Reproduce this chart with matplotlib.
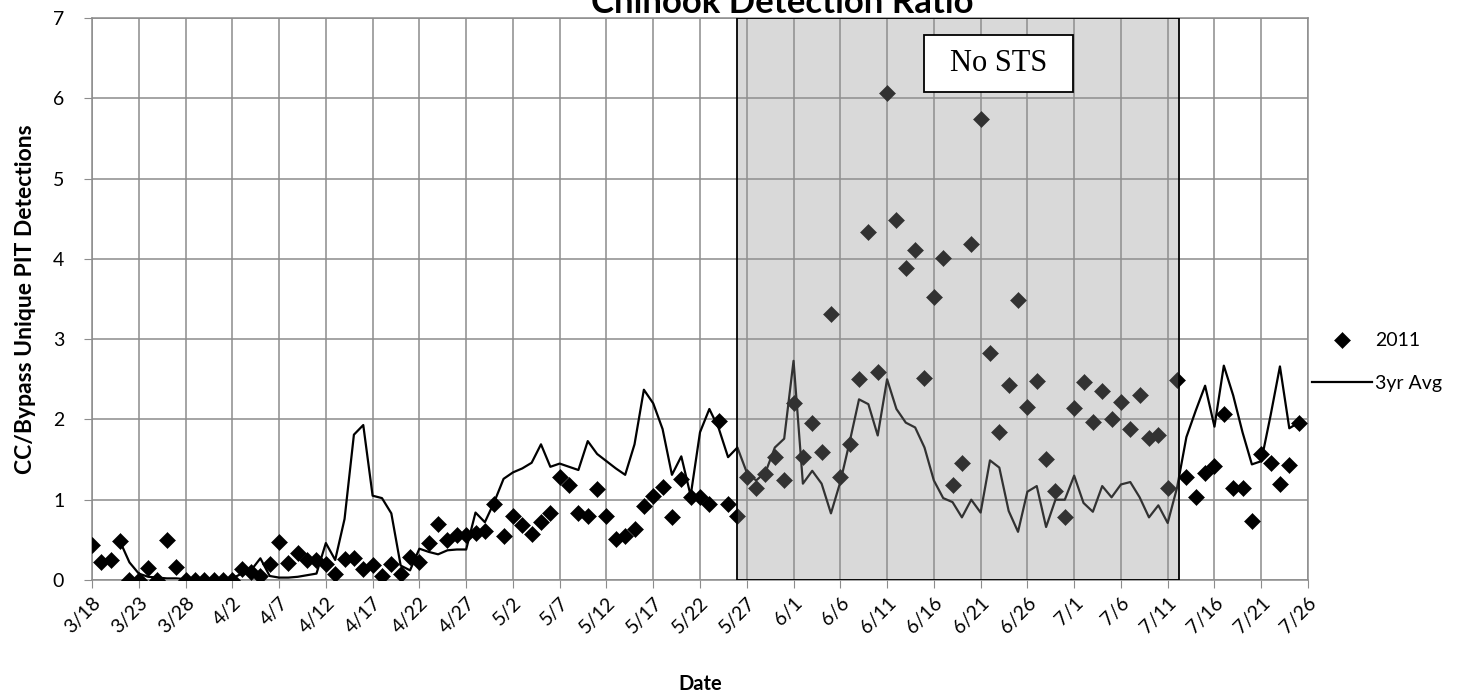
import numpy as np
import pandas as pd
import matplotlib
matplotlib.use('Agg')
import matplotlib.pyplot as plt
from matplotlib.patches import Rectangle

plt.rcParams['font.family'] = ['Lato', 'DejaVu Sans']

# daily values, 3/18/2011 .. 7/25/2011
dates = pd.date_range('2011-03-18', periods=130, freq='D')
tick_dates = pd.date_range('2011-03-18', '2011-07-26', freq='5D')
tick_labels = [f'{d.month}/{d.day}' for d in tick_dates]

ratio_2011 = [
    0.43, 0.23, 0.25, 0.48, 0.0, 0.0, 0.15, 0.0, 0.50, 0.16,
    0.0, 0.0, 0.0, 0.0, 0.0, 0.0, 0.14, 0.10, 0.05, 0.20,
    0.47, 0.21, 0.34, 0.25, 0.25, 0.20, 0.08, 0.26, 0.27, 0.14,
    0.19, 0.05, 0.20, 0.08, 0.29, 0.22, 0.46, 0.70, 0.50, 0.56,
    0.56, 0.58, 0.61, 0.95, 0.55, 0.80, 0.68, 0.57, 0.72, 0.84,
    1.28, 1.18, 0.84, 0.80, 1.13, 0.80, 0.51, 0.55, 0.64, 0.92,
    1.05, 1.16, 0.79, 1.26, 1.04, 1.03, 0.95, 1.98, 0.95, 0.80,
    1.28, 1.15, 1.32, 1.53, 1.24, 2.21, 1.53, 1.96, 1.59, 3.31,
    1.28, 1.70, 2.50, 4.33, 2.59, 6.07, 4.49, 3.88, 4.11, 2.51,
    3.52, 4.01, 1.18, 1.46, 4.19, 5.74, 2.83, 1.84, 2.43, 3.49,
    2.16, 2.48, 1.51, 1.11, 0.78, 2.14, 2.47, 1.97, 2.36, 2.00,
    2.22, 1.88, 2.31, 1.77, 1.81, 1.14, 2.49, 1.28, 1.04, 1.33,
    1.42, 2.07, 1.15, 1.14, 0.74, 1.57, 1.46, 1.19, 1.43, 1.96,
]

avg_3yr = [
    np.nan, np.nan, np.nan, 0.48, 0.22, 0.08, 0.04, 0.03, 0.02, 0.02,
    0.01, 0.01, 0.0, 0.0, 0.0, 0.02, 0.08, 0.12, 0.27, 0.05,
    0.03, 0.03, 0.04, 0.06, 0.08, 0.46, 0.25, 0.76, 1.81, 1.93,
    1.05, 1.02, 0.83, 0.18, 0.12, 0.39, 0.35, 0.32, 0.37, 0.38,
    0.38, 0.84, 0.72, 0.97, 1.26, 1.34, 1.39, 1.46, 1.69, 1.41,
    1.45, 1.41, 1.37, 1.73, 1.57, 1.48, 1.39, 1.31, 1.69, 2.37,
    2.20, 1.88, 1.31, 1.54, 1.05, 1.84, 2.13, 1.89, 1.53, 1.65,
    1.34, 1.24, 1.34, 1.65, 1.76, 2.73, 1.20, 1.36, 1.20, 0.83,
    1.22, 1.72, 2.25, 2.19, 1.80, 2.50, 2.13, 1.96, 1.90, 1.65,
    1.24, 1.02, 0.97, 0.78, 1.00, 0.84, 1.49, 1.40, 0.86, 0.60,
    1.10, 1.17, 0.66, 1.00, 1.00, 1.30, 0.96, 0.85, 1.17, 1.03,
    1.19, 1.22, 1.03, 0.78, 0.93, 0.71, 1.15, 1.78, 2.11, 2.42,
    1.91, 2.67, 2.30, 1.84, 1.44, 1.48, 2.05, 2.66, 1.89, 1.96,
]

# period with no STS
no_sts_start = pd.Timestamp('2011-05-26')
no_sts_end = pd.Timestamp('2011-07-12 06:00')

fig = plt.figure(figsize=(14.68, 6.96), dpi=100)
ax = fig.add_axes([92 / 1468, 116 / 696, 1216 / 1468, 562 / 696])

grid_c = '#8c8c8c'
ax.plot(dates, avg_3yr, color='black', lw=1.6, zorder=2.5, label='3yr Avg')
ax.plot(dates, ratio_2011, linestyle='none', marker='D', ms=8.4,
        color='black', mew=0.4, zorder=3, label='2011')

# shaded no-STS window (drawn over the data like the original)
x0 = matplotlib.dates.date2num(no_sts_start)
x1 = matplotlib.dates.date2num(no_sts_end)
ax.add_patch(Rectangle((x0, 0), x1 - x0, 7, facecolor='#929292', alpha=0.35,
                       edgecolor='none', zorder=4))
ax.add_patch(Rectangle((x0, 0), x1 - x0, 7, facecolor='none',
                       edgecolor='black', lw=1.3, zorder=5))

bx0 = matplotlib.dates.date2num(pd.Timestamp('2011-06-14 23:00'))
bx1 = matplotlib.dates.date2num(pd.Timestamp('2011-06-30 21:00'))
ax.add_patch(Rectangle((bx0, 6.08), bx1 - bx0, 0.71, facecolor='white',
                       edgecolor='black', lw=1.3, zorder=6))
ax.text((bx0 + bx1) / 2, 6.43, 'No STS', family=['Liberation Serif'],
        fontsize=22, ha='center', va='center', zorder=7)

ax.set_xlim(dates[0], pd.Timestamp('2011-07-26'))
ax.set_ylim(0, 7)
ax.set_xticks(tick_dates)
ax.set_xticklabels(tick_labels, rotation=45, ha='right', rotation_mode='anchor')
ax.set_yticks(range(0, 8))
ax.tick_params(axis='x', length=6, color=grid_c, labelsize=14, pad=4)
ax.tick_params(axis='y', length=6, color=grid_c, labelsize=14, pad=14)
ax.grid(True, color=grid_c, lw=1.1)
ax.set_axisbelow(True)
for s in ax.spines.values():
    s.set_color(grid_c)
    s.set_linewidth(1.1)

ax.set_xlabel('Date', fontsize=14.5, fontweight='bold', labelpad=27)
ax.set_ylabel('CC/Bypass Unique PIT Detections', fontsize=16.5,
              fontweight='bold', labelpad=12)
fig.text(782 / 1468, 1 - 13 / 696, 'Chinook Detection Ratio', fontsize=25,
         fontweight='bold', ha='center', va='baseline')

h, l = ax.get_legend_handles_labels()
fig.legend(h[::-1], l[::-1], loc='center left',
           bbox_to_anchor=(1294 / 1468, 1 - 362 / 696), frameon=False,
           fontsize=14, handlelength=3.1, handletextpad=0.15, labelspacing=1.3)

plt.savefig('out.png', dpi=100)
